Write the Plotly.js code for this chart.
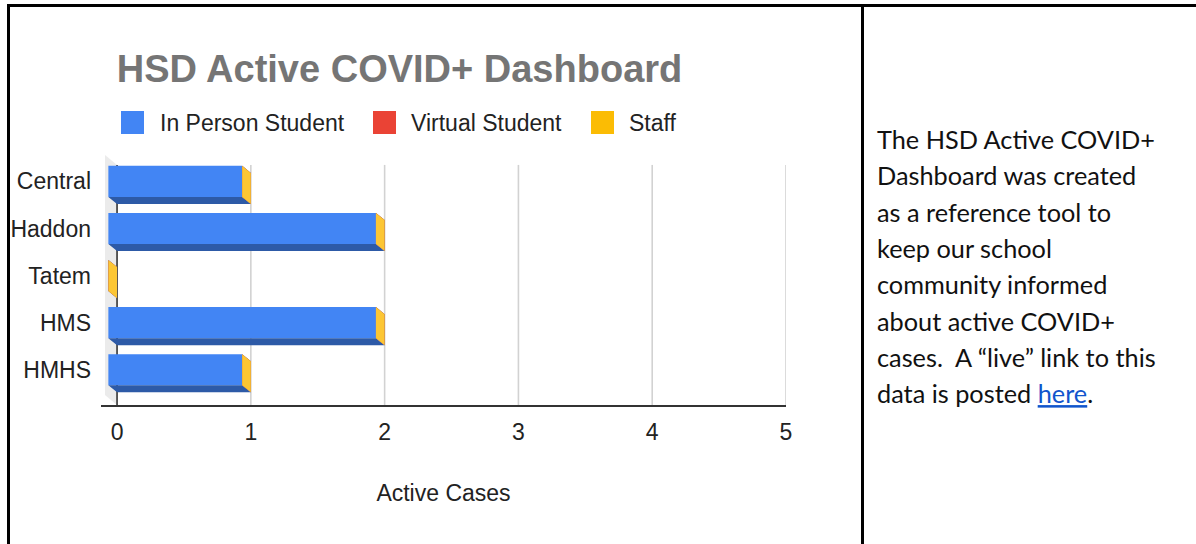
<!DOCTYPE html>
<html>
<head>
<meta charset="utf-8">
<script src="https://cdn.plot.ly/plotly-3.0.1.min.js"></script>
<style>
  html, body { margin: 0; padding: 0; background: #ffffff; width: 1196px; height: 544px; overflow: hidden; }
  #chart { position: absolute; left: 0; top: 0; width: 860px; height: 544px; }
  .bd { position: absolute; background: #000; z-index: 5; }
  #note { position: absolute; left: 864px; top: 0; width: 332px; height: 544px; z-index: 6; }
  #note text { font-family: Lato, 'Noto Sans', sans-serif; font-size: 25.3px; fill: #111111; white-space: pre; }
  #note .lnk { fill: #1155cc; text-decoration: underline; }
</style>
</head>
<body>
<div id="chart"></div>
<div class="bd" style="left:7px; top:4px; width:1189px; height:3px;"></div>
<div class="bd" style="left:7px; top:4px; width:3px; height:540px;"></div>
<div class="bd" style="left:861px; top:4px; width:3px; height:540px;"></div>
<svg id="note" xmlns="http://www.w3.org/2000/svg" width="332" height="544">
  <text x="13" y="149">The HSD Active COVID+</text>
  <text x="13" y="185.3">Dashboard was created</text>
  <text x="13" y="221.6">as a reference tool to</text>
  <text x="13" y="257.9">keep our school</text>
  <text x="13" y="294.2">community informed</text>
  <text x="13" y="330.5">about active COVID+</text>
  <text x="13" y="366.8">cases.  A “live” link to this</text>
  <text x="13" y="403.1">data is posted <tspan class="lnk">here</tspan>.</text>
</svg>
<script>
// ---- data ----
const categories = ['Central', 'Haddon', 'Tatem', 'HMS', 'HMHS'];
const inPersonStudent = [1, 2, 0, 2, 1];
const virtualStudent = [0, 0, 0, 0, 0];
const staff = [0, 0, 0, 0, 0];
const seriesNames = ['In Person Student', 'Virtual Student', 'Staff'];
const xTickValues = [0, 1, 2, 3, 4, 5];
const chartTitle = 'HSD Active COVID+ Dashboard';
const xAxisTitle = 'Active Cases';

// ---- styling ----
const FONT = 'Liberation Sans, Arial, sans-serif';
const faceColors = ['#4285f4', '#ea4335', '#fbbc04'];
const bottomColors = ['#2d5aa7', '#a8302a', '#c99a12'];
const capColors = ['#3a6fd0', '#c73a2f', '#fcc634'];
const seriesValues = [inPersonStudent, virtualStudent, staff];

// geometry in data units (3D depth offset)
const DX = 0.065;   // horizontal depth offset (value units)
const DY = 0.15;    // vertical depth offset (category units)
const BAR_H = 0.66; // bar thickness (category units)
const WALL_DX = 0.09, WALL_DY = 0.21;
const Y_TOP = -0.5, Y_BOTTOM = 4.6;

const idx = categories.map((c, i) => i);
const traces = [];

// running stack starts
const starts = categories.map(() => 0);
const segs = [];
seriesValues.forEach((vals, s) => {
  const base = starts.slice();
  segs.push({ s, base, vals });
  // front face bar
  traces.push({
    type: 'bar', orientation: 'h', name: seriesNames[s],
    y: idx.map(i => i - DY), x: vals, base: base.map(b => b - DX),
    width: BAR_H, marker: { color: faceColors[s], line: { width: 0 } },
    showlegend: false, hoverinfo: 'skip'
  });
  vals.forEach((v, i) => { starts[i] += v; });
});

// bottom faces and end caps (polygons computed from data)
segs.forEach(({ s, base, vals }) => {
  const bx = [], by = [], cx = [], cy = [];
  idx.forEach(i => {
    const x0 = base[i], x1 = base[i] + vals[i];
    const fb = i - DY + BAR_H / 2, bb = i + BAR_H / 2;
    const ft = i - DY - BAR_H / 2, bt = i - BAR_H / 2;
    if (vals[i] > 0) {
      bx.push(x0 - DX, x1 - DX, x1, x0, x0 - DX, null);
      by.push(fb, fb, bb, bb, fb, null);
    }
    cx.push(x1 - DX, x1, x1, x1 - DX, x1 - DX, null);
    cy.push(ft, bt, bb, fb, ft, null);
  });
  traces.push({ type: 'scatter', mode: 'lines', x: bx, y: by, fill: 'toself',
    fillcolor: bottomColors[s], line: { width: 0, color: bottomColors[s] },
    showlegend: false, hoverinfo: 'skip' });
  traces.push({ type: 'scatter', mode: 'lines', x: cx, y: cy, fill: 'toself',
    fillcolor: capColors[s], line: { width: 0, color: capColors[s] },
    showlegend: false, hoverinfo: 'skip' });
});

// ---- layout ----
const W = 860, H = 544;
const M = { l: 101, r: 74, t: 155, b: 139 };
const plotW = W - M.l - M.r, plotH = H - M.t - M.b;
const pxX = px => (px - M.l) / plotW;
const pxY = py => (H - M.b - py) / plotH;

const shapes = [];
// side wall
shapes.push({ type: 'path', xref: 'x', yref: 'y', layer: 'below',
  path: `M0,${Y_TOP} L0,${Y_BOTTOM} L${-WALL_DX},${Y_BOTTOM - WALL_DY} L${-WALL_DX},${Y_TOP - WALL_DY} Z`,
  fillcolor: '#ebebeb', line: { width: 0 } });
// gridlines
xTickValues.filter(v => v !== 0).forEach(v => {
  shapes.push({ type: 'line', xref: 'x', yref: 'y', layer: 'below',
    x0: v, x1: v, y0: Y_TOP, y1: Y_BOTTOM, line: { color: '#d2d2d2', width: 1.6 } });
});
// zero line
shapes.push({ type: 'line', xref: 'x', yref: 'y', layer: 'below',
  x0: 0, x1: 0, y0: Y_TOP, y1: Y_BOTTOM, line: { color: '#333333', width: 1.6 } });

// custom legend
const annotations = [];
const legendSwatchX = [121, 373, 591];
const legendTextX = [158, 409, 627];
seriesNames.forEach((n, s) => {
  shapes.push({ type: 'rect', xref: 'paper', yref: 'paper', layer: 'above',
    x0: pxX(legendSwatchX[s]), x1: pxX(legendSwatchX[s] + 23),
    y0: pxY(134), y1: pxY(111), fillcolor: faceColors[s], line: { width: 0 } });
  annotations.push({ xref: 'paper', yref: 'paper', x: pxX(legendTextX[s]), y: pxY(123),
    xanchor: 'left', yanchor: 'middle', showarrow: false, text: n,
    font: { family: FONT, size: 23, color: '#222222' } });
});

const layout = {
  width: W, height: H,
  margin: M,
  paper_bgcolor: 'rgba(0,0,0,0)', plot_bgcolor: 'rgba(0,0,0,0)',
  showlegend: false,
  barmode: 'overlay',
  title: { text: '<b>' + chartTitle + '</b>', font: { family: FONT, size: 38, color: '#757575' },
    xref: 'container', x: 399.5 / W, xanchor: 'center', yref: 'container', y: 1 - 69 / H, yanchor: 'middle' },
  xaxis: {
    range: [-0.12, 5], tickvals: xTickValues, ticktext: xTickValues.map(String),
    showgrid: false, zeroline: false, showline: true, linecolor: '#333333', linewidth: 2,
    ticks: '', tickfont: { family: FONT, size: 23, color: '#222222' }, ticklabelstandoff: 5,
    title: { text: xAxisTitle, font: { family: FONT, size: 23, color: '#222222' }, standoff: 41 },
    fixedrange: true
  },
  yaxis: {
    range: [Y_BOTTOM, -0.711], tickvals: idx.map(i => i - DY), ticktext: categories,
    showgrid: false, zeroline: false, showline: false, ticks: '',
    tickfont: { family: FONT, size: 23, color: '#222222' }, ticklabelstandoff: 9,
    fixedrange: true
  },
  shapes, annotations
};

Plotly.newPlot('chart', traces, layout, { displayModeBar: false, staticPlot: true });
</script>
</body>
</html>
